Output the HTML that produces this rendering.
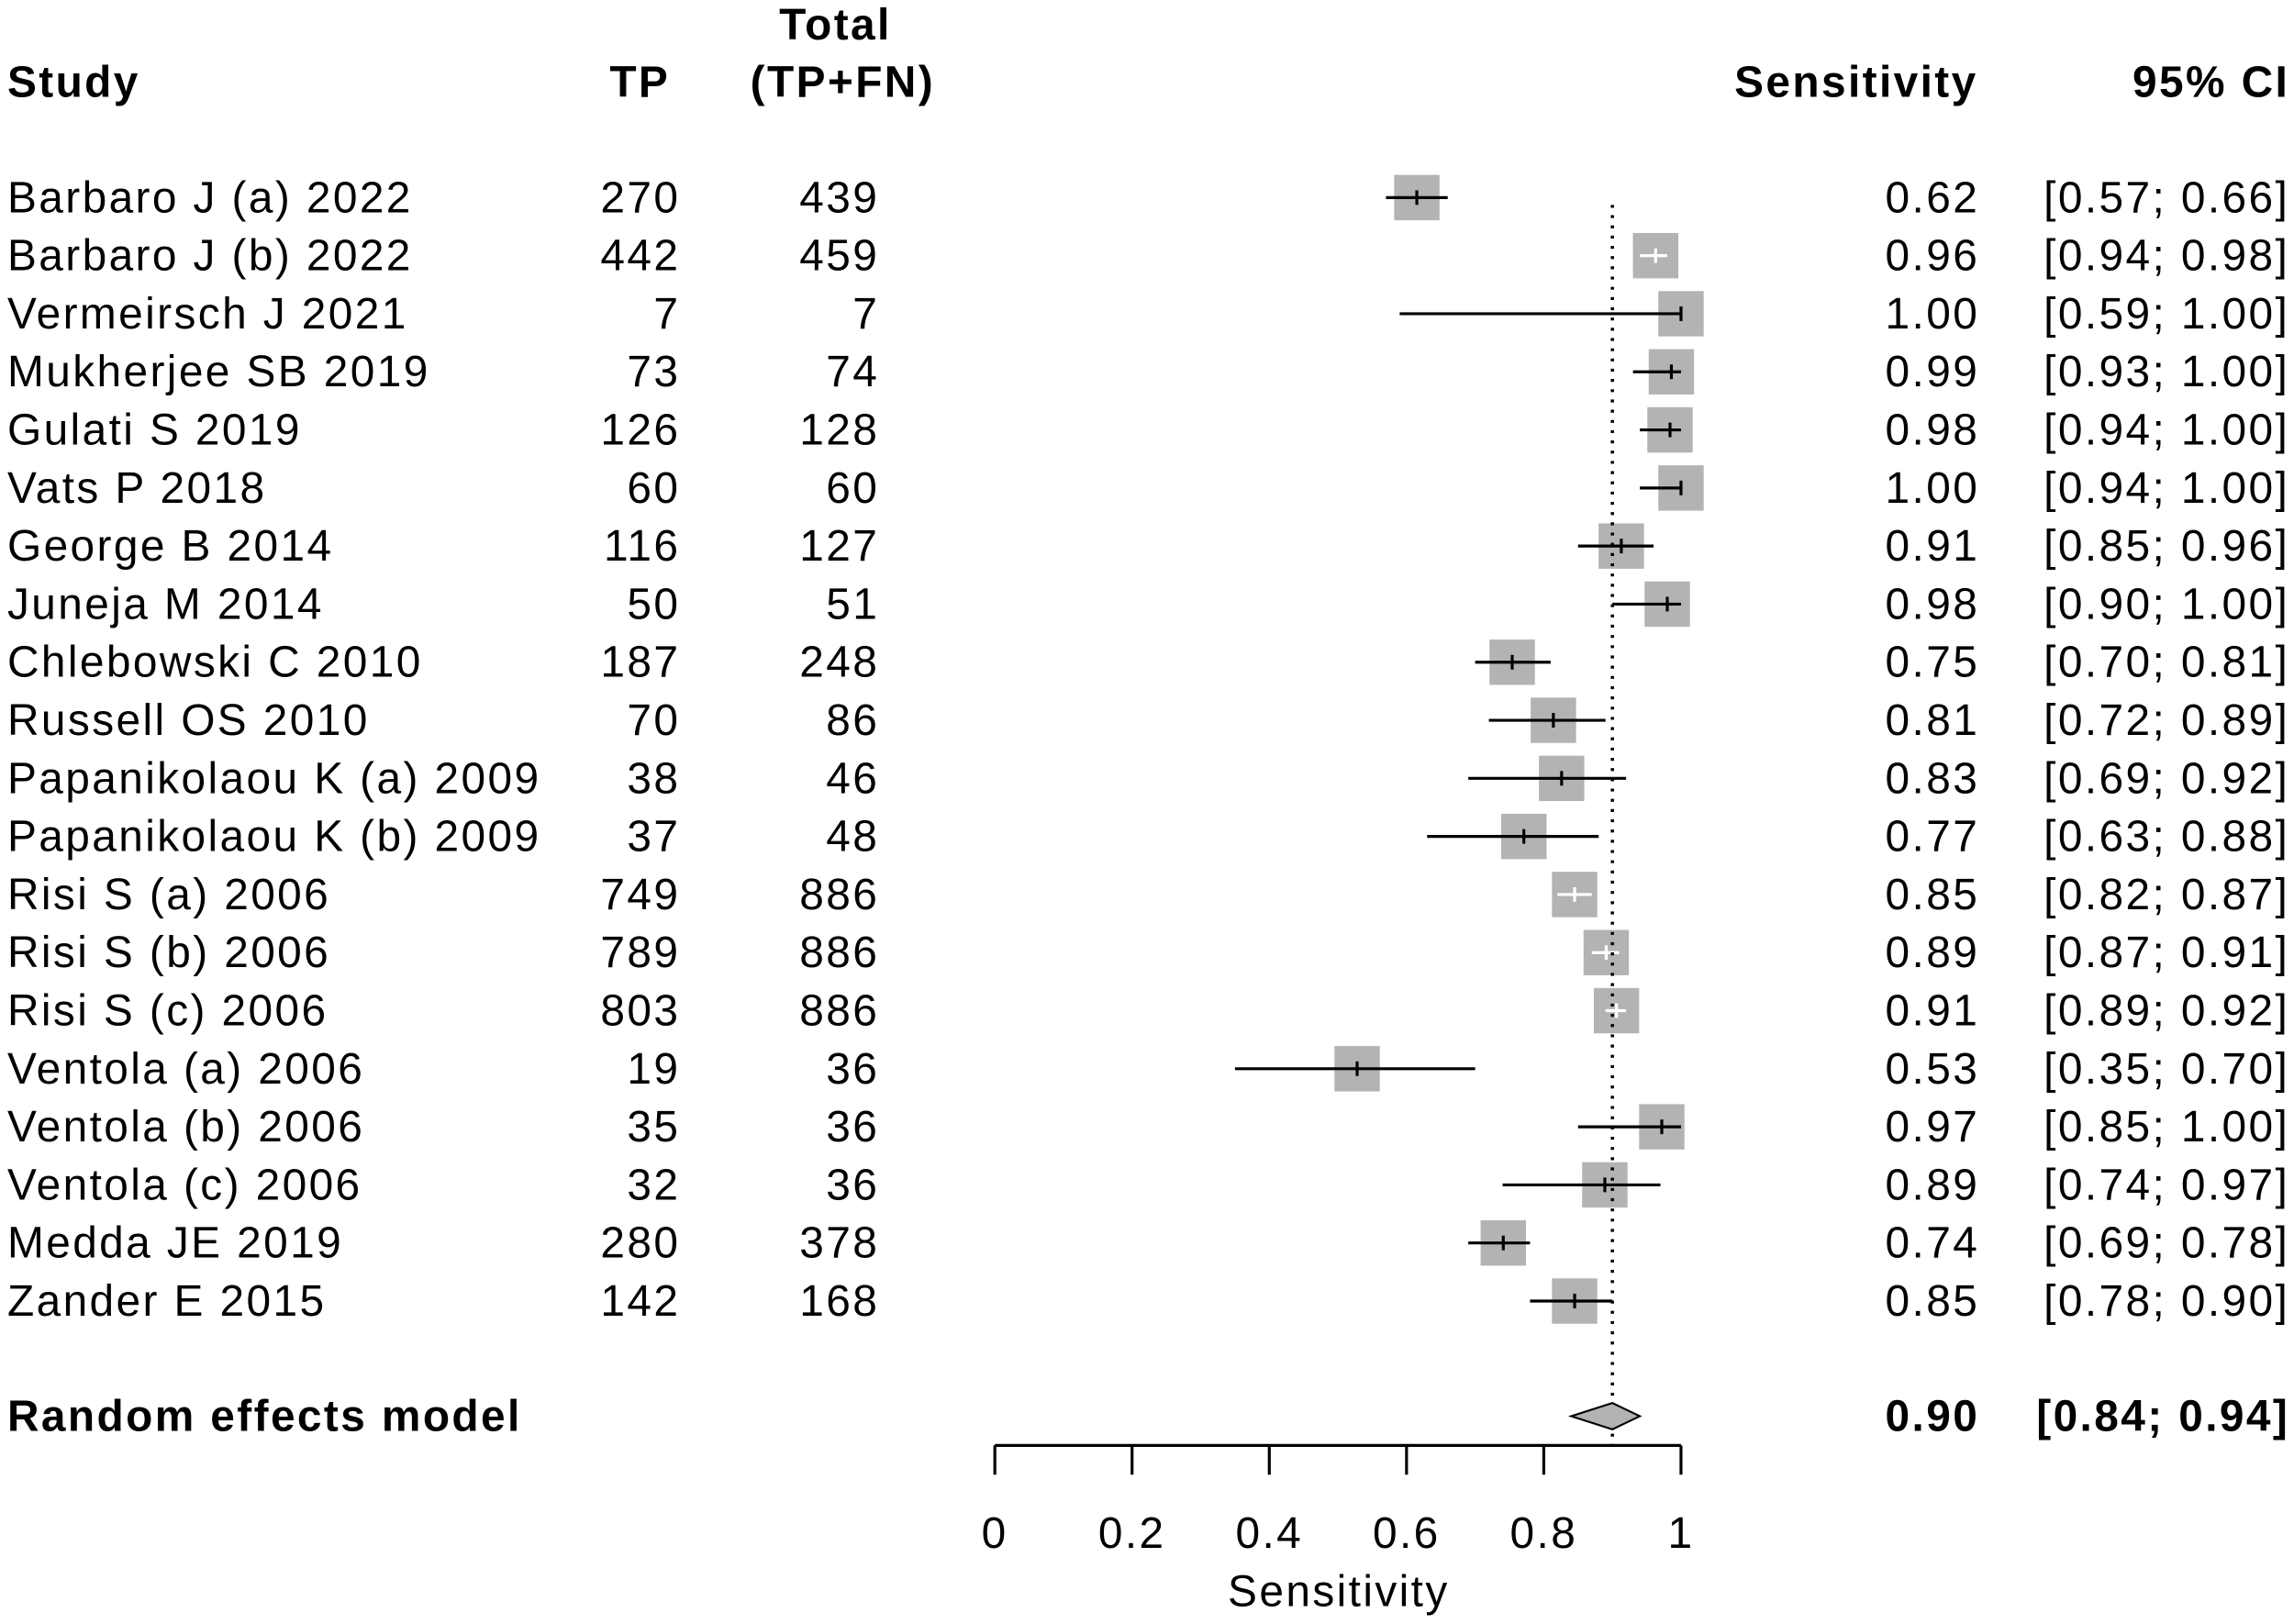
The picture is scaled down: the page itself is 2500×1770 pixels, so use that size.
<!DOCTYPE html>
<html><head><meta charset="utf-8"><style>
html,body{margin:0;padding:0;background:#fff;}
svg{display:block;font-family:"Liberation Sans",Arial,sans-serif;letter-spacing:1.5px;}
</style></head><body>
<svg id="chart" width="2500" height="1770" viewBox="0 0 1568 1110" xmlns="http://www.w3.org/2000/svg">
<g font-weight="bold" font-size="30">
<text x="5" y="66">Study</text>
<text x="458" y="66" text-anchor="end">TP</text>
<text x="571" y="27" text-anchor="middle">Total</text>
<text x="576" y="66" text-anchor="middle">(TP+FN)</text>
<text x="1352" y="66" text-anchor="end">Sensitivity</text>
<text x="1565" y="66" text-anchor="end">95% CI</text>
</g>
<g id="rows"></g>
<g id="axis"></g>
</svg>
<script>
const studies=["Barbaro J (a) 2022","Barbaro J (b) 2022","Vermeirsch J 2021","Mukherjee SB 2019","Gulati S 2019","Vats P 2018","George B 2014","Juneja M 2014","Chlebowski C 2010","Russell OS 2010","Papanikolaou K (a) 2009","Papanikolaou K (b) 2009","Risi S (a) 2006","Risi S (b) 2006","Risi S (c) 2006","Ventola (a) 2006","Ventola (b) 2006","Ventola (c) 2006","Medda JE 2019","Zander E 2015"];
const tp=[270,442,7,73,126,60,116,50,187,70,38,37,749,789,803,19,35,32,280,142];
const total=[439,459,7,74,128,60,127,51,248,86,46,48,886,886,886,36,36,36,378,168];
const sens=[0.615,0.963,1.00,0.986,0.984,1.00,0.913,0.980,0.754,0.814,0.826,0.771,0.845,0.891,0.906,0.528,0.972,0.889,0.741,0.845];
const lower=[0.57,0.94,0.59,0.93,0.94,0.94,0.85,0.90,0.70,0.72,0.69,0.63,0.82,0.87,0.89,0.35,0.85,0.74,0.69,0.78];
const upper=[0.66,0.98,1.00,1.00,1.00,1.00,0.96,1.00,0.81,0.89,0.92,0.88,0.87,0.91,0.92,0.70,1.00,0.97,0.78,0.90];
const sensLabels=["0.62","0.96","1.00","0.99","0.98","1.00","0.91","0.98","0.75","0.81","0.83","0.77","0.85","0.89","0.91","0.53","0.97","0.89","0.74","0.85"];
const ciLabels=["[0.57; 0.66]","[0.94; 0.98]","[0.59; 1.00]","[0.93; 1.00]","[0.94; 1.00]","[0.94; 1.00]","[0.85; 0.96]","[0.90; 1.00]","[0.70; 0.81]","[0.72; 0.89]","[0.69; 0.92]","[0.63; 0.88]","[0.82; 0.87]","[0.87; 0.91]","[0.89; 0.92]","[0.35; 0.70]","[0.85; 1.00]","[0.74; 0.97]","[0.69; 0.78]","[0.78; 0.90]"];
const pooled=[0.90,0.84,0.94];
const pooledLabels=["0.90","[0.84; 0.94]"];
const ticks=[0,0.2,0.4,0.6,0.8,1];
const tickLabels=["0","0.2","0.4","0.6","0.8","1"];

const NS="http://www.w3.org/2000/svg";
const X=v=>680+v*469;
const Y=i=>135+i*39.7;
const FS=30;
function mk(tag,attrs,parent,txt){const e=document.createElementNS(NS,tag);for(const k in attrs)e.setAttribute(k,attrs[k]);if(txt!==undefined)e.textContent=txt;parent.appendChild(e);return e;}
const rows=document.getElementById('rows');
const axis=document.getElementById('axis');
const SQ=31;
for(let i=0;i<studies.length;i++){
  const y=Y(i);
  let t;
  t=mk('text',{x:5,y:y+10,'font-size':FS},rows,studies[i]);
  
  
  t=mk('text',{x:465,y:y+10,'font-size':FS,'text-anchor':'end'},rows,tp[i]);
  
  
  t=mk('text',{x:601,y:y+10,'font-size':FS,'text-anchor':'end'},rows,total[i]);
  
  
  t=mk('text',{x:1353,y:y+10,'font-size':FS,'text-anchor':'end'},rows,sensLabels[i]);
  
  
  t=mk('text',{x:1565,y:y+10,'font-size':FS,'text-anchor':'end'},rows,ciLabels[i]);
  
  
  const cx=X(sens[i]);
  const r=mk('rect',{x:cx-SQ/2,y:y-SQ/2,width:SQ,height:SQ,fill:'#b3b3b3'},rows);
  
  
  const inside=X(lower[i])>cx-SQ/2&&X(upper[i])<cx+SQ/2;
  const col=inside?'#fff':'#000';
  const l=mk('line',{x1:X(lower[i]),x2:X(upper[i]),y1:y,y2:y,stroke:col,'stroke-width':2},rows);
  
  
  const m=mk('line',{x1:cx,x2:cx,y1:y-5,y2:y+5,stroke:col,'stroke-width':2},rows);
  
  
}
const ry=968;
let e;
e=mk('text',{x:5,y:ry+10,'font-size':FS,'font-weight':'bold'},rows,'Random effects model');


e=mk('text',{x:1353,y:ry+10,'font-size':FS,'font-weight':'bold','text-anchor':'end'},rows,pooledLabels[0]);


e=mk('text',{x:1565,y:ry+10,'font-size':FS,'font-weight':'bold','text-anchor':'end'},rows,pooledLabels[1]);


e=mk('line',{x1:X(pooled[0]),x2:X(pooled[0]),y1:140,y2:988,stroke:'#000','stroke-width':2.2,'stroke-dasharray':'2,5'},rows);


e=mk('polygon',{points:`${X(pooled[1])},${ry} ${X(pooled[0])},${ry-9} ${X(pooled[2])},${ry} ${X(pooled[0])},${ry+9}`,fill:'#b3b3b3',stroke:'#000','stroke-width':1.3},rows);


e=mk('line',{x1:X(0),x2:X(1),y1:988,y2:988,stroke:'#000','stroke-width':2},axis);


ticks.forEach((v,k)=>{
  const tk=mk('line',{x1:X(v),x2:X(v),y1:988,y2:1008,stroke:'#000','stroke-width':2},axis);
  
  
  const tl=mk('text',{x:X(v),y:1058,'font-size':FS,'text-anchor':'middle'},axis,tickLabels[k]);
  
  
});
e=mk('text',{x:915,y:1098,'font-size':FS,'text-anchor':'middle'},axis,'Sensitivity');


</script>
</body></html>
